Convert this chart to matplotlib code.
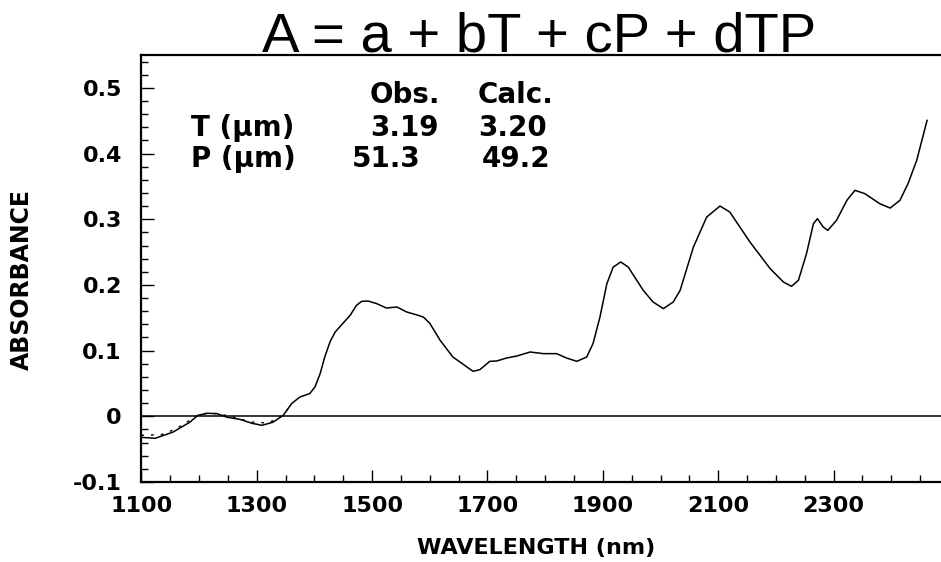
import numpy as np
import matplotlib
matplotlib.use("Agg")
import matplotlib.pyplot as plt
from matplotlib.ticker import MultipleLocator

plt.rcParams['font.family'] = ['Liberation Sans', 'DejaVu Sans']
BOLD_FONT = ['DejaVu Sans']

wavelength = [1100, 1124, 1155, 1184, 1198, 1214, 1231, 1249, 1271, 1292,
              1309, 1328, 1346, 1361, 1375, 1392, 1401, 1410, 1418, 1427,
              1436, 1450, 1462, 1473, 1482, 1493, 1508, 1525, 1543, 1560,
              1580, 1589, 1600, 1618, 1640, 1675, 1687, 1704, 1716, 1733,
              1751, 1774, 1797, 1820, 1837, 1855, 1872, 1883, 1895, 1907,
              1918, 1931, 1944, 1970, 1987, 2005, 2022, 2034, 2057, 2080,
              2103, 2120, 2155, 2190, 2213, 2227, 2239, 2253, 2265, 2272,
              2282, 2290, 2305, 2323, 2337, 2354, 2380, 2398, 2415, 2429,
              2444, 2462]
absorbance = [-0.032, -0.0335, -0.024, -0.009, 0.0015, 0.0046, 0.0041, -0.0015, -0.0046, -0.0107,
              -0.0137, -0.0091, 0.0015, 0.0198, 0.0294, 0.0346, 0.0446, 0.065, 0.0903, 0.1131,
              0.1283, 0.142, 0.1537, 0.169, 0.175, 0.1755, 0.1715, 0.1648, 0.1664, 0.1588,
              0.1537, 0.1511, 0.1416, 0.1157, 0.0903, 0.0685, 0.0711, 0.0837, 0.0842, 0.0887,
              0.0918, 0.0979, 0.0954, 0.0954, 0.0887, 0.0837, 0.0903, 0.1107, 0.1511, 0.202,
              0.2272, 0.2349, 0.2272, 0.1918, 0.174, 0.1639, 0.174, 0.1918, 0.2577, 0.3033,
              0.3201, 0.311, 0.2653, 0.2248, 0.2044, 0.1979, 0.207, 0.2476, 0.2933, 0.3009,
              0.2881, 0.2831, 0.2983, 0.3288, 0.344, 0.339, 0.3237, 0.317, 0.3288, 0.3542,
              0.3896, 0.4505]

# Calculated spectrum where it departs from the observed one
calc_wavelength = [1100, 1135, 1161, 1184, 1205, 1234, 1262, 1291, 1320, 1346, 1361]
calc_absorbance = [-0.0289, -0.0279, -0.0187, -0.0061, 0.0041, 0.0041, -0.002, -0.0087, -0.0102, 0.0015, 0.0198]

y_ticks = [-0.1, 0, 0.1, 0.2, 0.3, 0.4, 0.5]
y_tick_labels = ["-0.1", "0", "0.1", "0.2", "0.3", "0.4", "0.5"]
x_ticks = [1100, 1300, 1500, 1700, 1900, 2100, 2300]

W, H = 941, 562
fig = plt.figure(figsize=(W / 100, H / 100), dpi=100)
ax = fig.add_axes([141.3 / W, 1 - 482 / H, (949 - 141.3) / W, (482 - 55) / H])

ax.plot(wavelength, absorbance, color='black', lw=1.1)
ax.plot(calc_wavelength, calc_absorbance, color='black', lw=1.0, ls=(0, (2, 5)))
ax.axhline(0, color='black', lw=1.1)

ax.set_xlim(1100, 2500)
ax.set_ylim(-0.1, 0.55)
ax.set_xticks(x_ticks)
ax.set_xticklabels([str(v) for v in x_ticks])
ax.set_yticks(y_ticks)
ax.set_yticklabels(y_tick_labels)
ax.xaxis.set_minor_locator(MultipleLocator(50))
ax.yaxis.set_minor_locator(MultipleLocator(0.02))
ax.tick_params(which='both', direction='in', top=False, right=False, width=1)
ax.tick_params(which='major', length=9)
ax.tick_params(which='minor', length=5)
ax.tick_params(axis='y', pad=14)
ax.tick_params(axis='x', pad=10)
for lab in ax.get_xticklabels() + ax.get_yticklabels():
    lab.set_fontsize(16)
    lab.set_fontweight('bold')
    lab.set_family(BOLD_FONT)
for s in ['left', 'bottom', 'top']:
    ax.spines[s].set_linewidth(1.6)
ax.spines['right'].set_visible(False)

fig.text(539.6 / W, 1 - 52 / H, "A = a + bT + cP + dTP", fontsize=40.5,
         ha='center', va='baseline')
fig.text(536 / W, 1 - 548 / H, "WAVELENGTH (nm)", fontsize=16, fontweight='bold',
         family=BOLD_FONT, ha='center', va='center')
fig.text(22 / W, 1 - 279 / H, "ABSORBANCE", fontsize=17, fontweight='bold',
         family=BOLD_FONT, rotation=90, ha='center', va='center')

# Obs./Calc. table
tb = dict(fontsize=20, fontweight='bold', family=BOLD_FONT, va='baseline', ha='left')
fig.text(370 / W, 1 - 103 / H, "Obs.", **tb)
fig.text(478 / W, 1 - 103 / H, "Calc.", **tb)
fig.text(191 / W, 1 - 136 / H, "T (μm)", **tb)
fig.text(370 / W, 1 - 136 / H, "3.19", **tb)
fig.text(478 / W, 1 - 136 / H, "3.20", **tb)
fig.text(191 / W, 1 - 167 / H, "P (μm)", **tb)
fig.text(352 / W, 1 - 167 / H, "51.3", **tb)
fig.text(482 / W, 1 - 167 / H, "49.2", **tb)

fig.savefig("out.png", dpi=100)
